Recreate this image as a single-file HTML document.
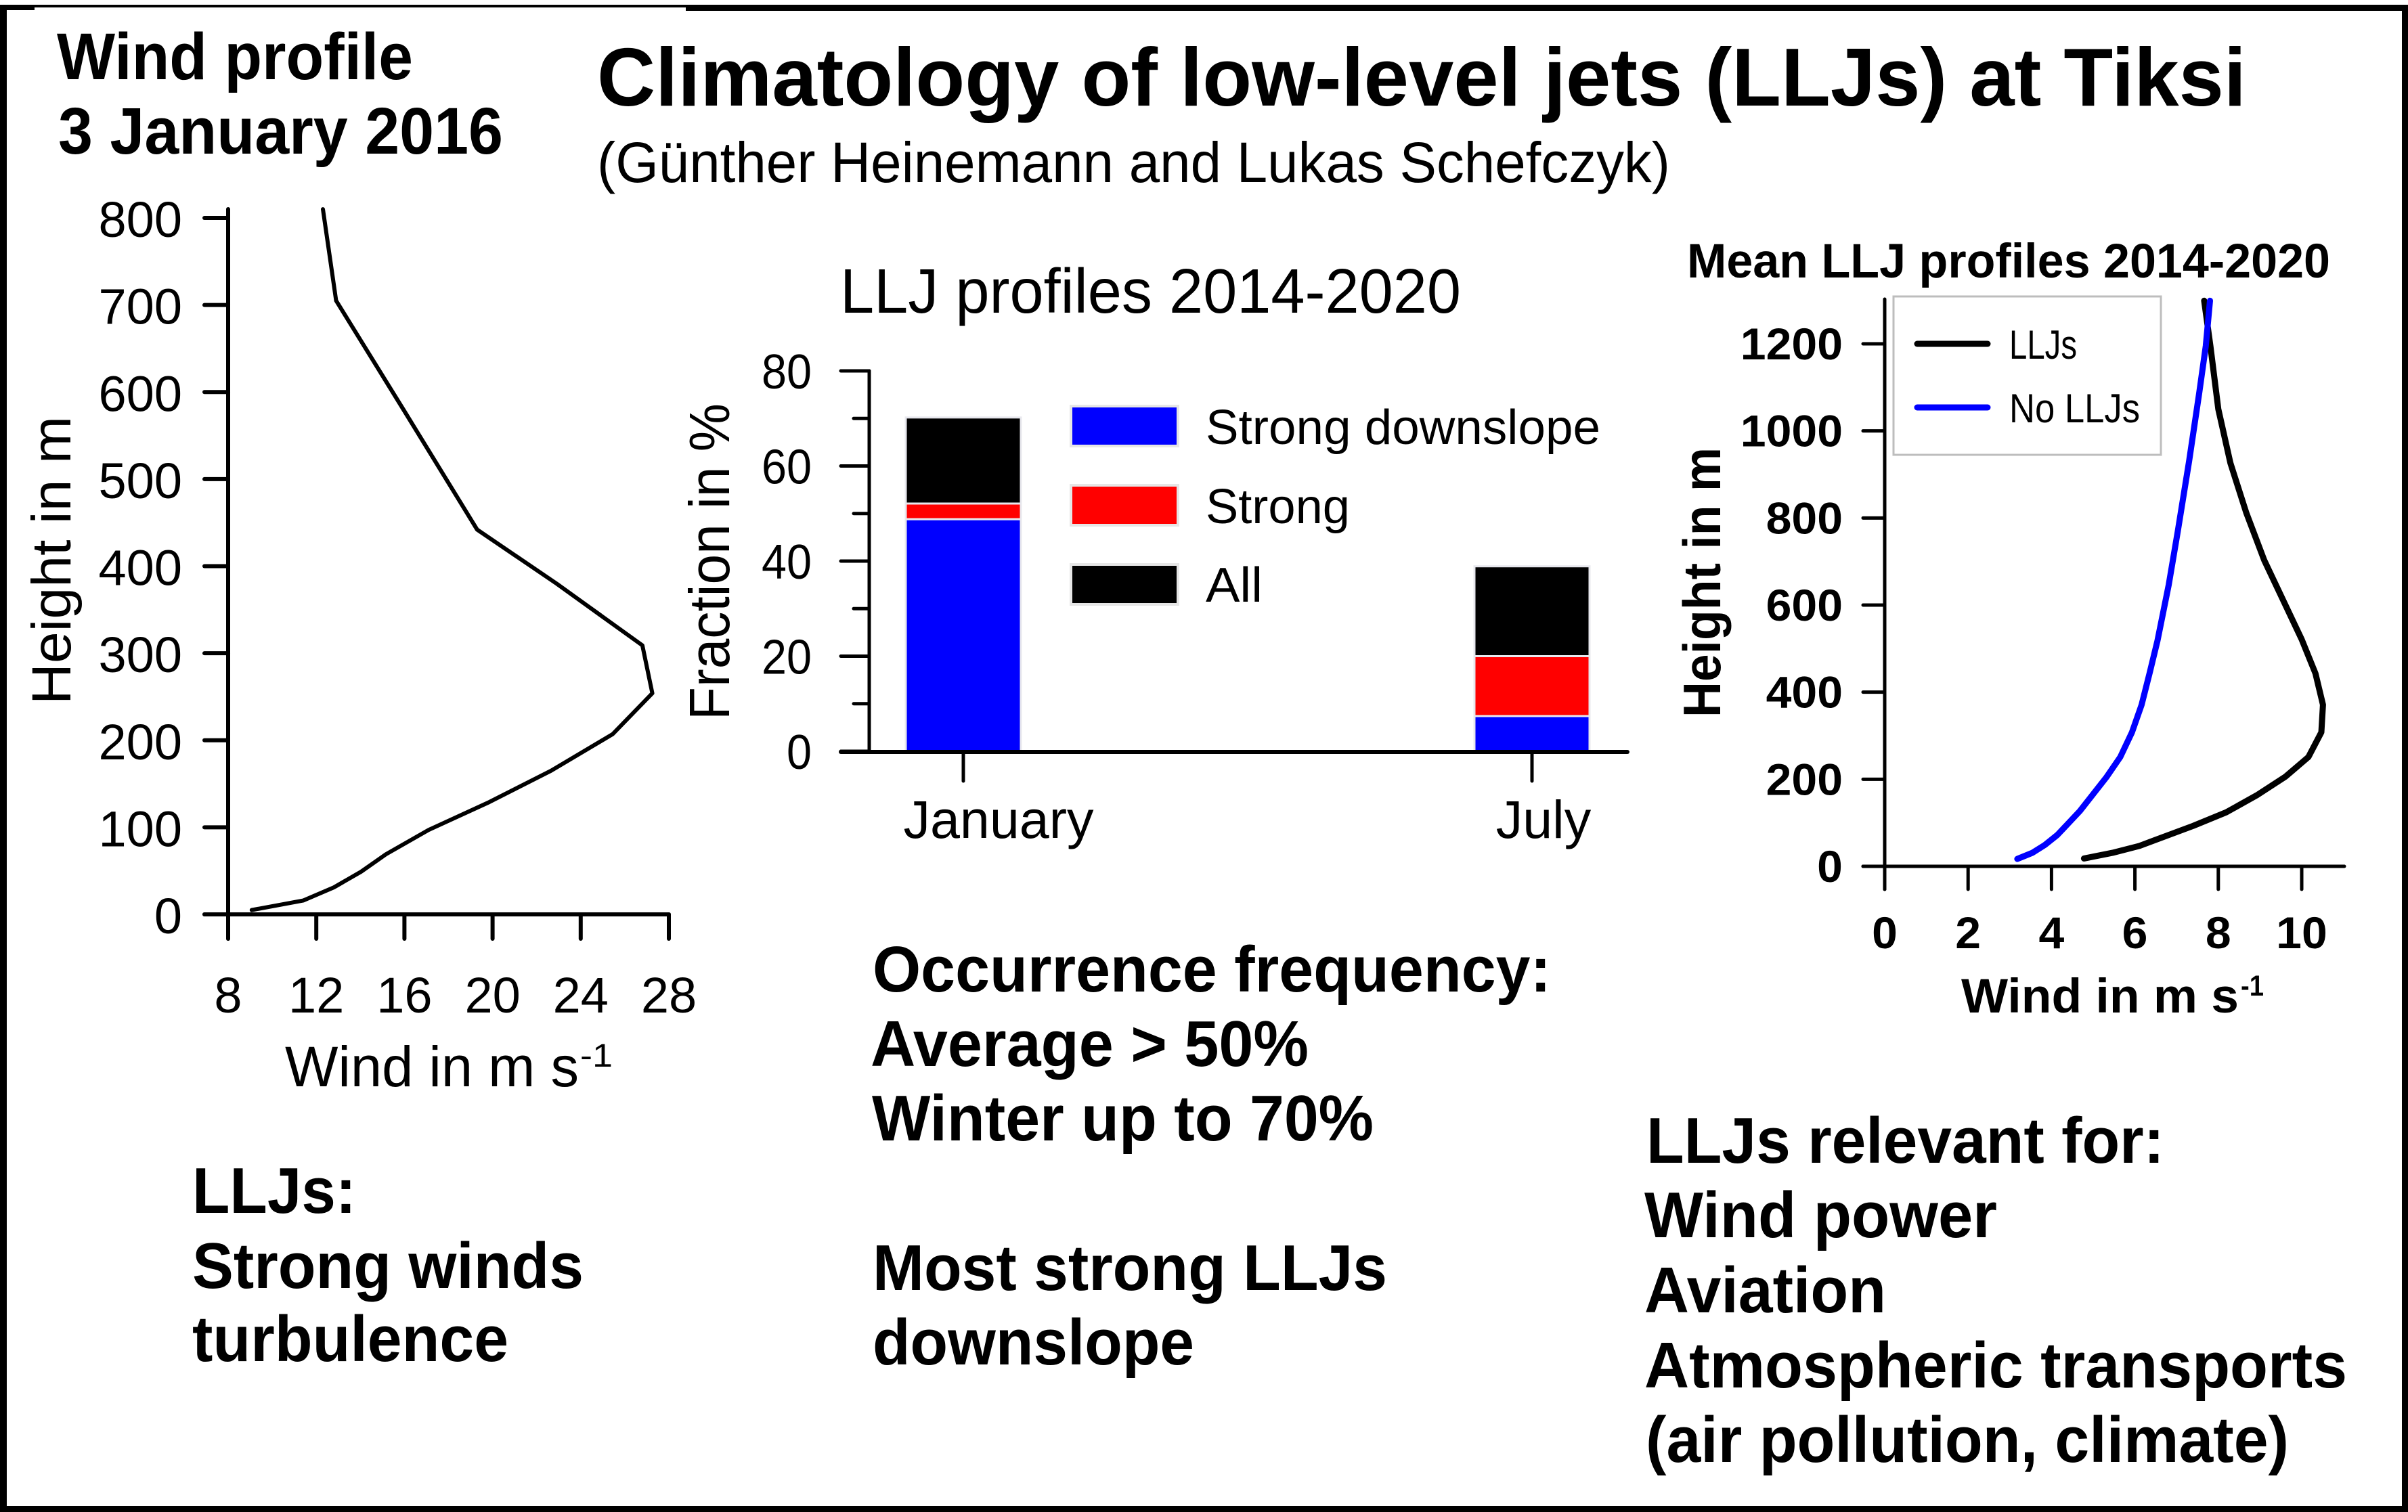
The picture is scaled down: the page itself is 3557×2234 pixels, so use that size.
<!DOCTYPE html>
<html lang="en">
<head>
<meta charset="utf-8">
<title>Climatology of low-level jets (LLJs) at Tiksi</title>
<style>
html,body{margin:0;padding:0;background:#fff;width:3557px;height:2234px;overflow:hidden}
svg{display:block}
text{font-family:"Liberation Sans",sans-serif;fill:#000}
.b{font-weight:700}
.body{font-weight:700;font-size:96px}
</style>
</head>
<body>
<svg id="poster" xmlns="http://www.w3.org/2000/svg" width="3557" height="2234" viewBox="0 0 3557 2234">
  <rect x="0" y="0" width="3557" height="2234" fill="#fff"/>
  <g fill="#000">
    <rect x="0" y="7" width="10" height="2227"/>
    <rect x="3548" y="7" width="9" height="2227"/>
    <rect x="0" y="2225" width="3557" height="9"/>
    <rect x="0" y="7" width="3557" height="4"/>
    <rect x="0" y="7" width="51" height="8"/>
    <rect x="1013" y="7" width="2544" height="9"/>
  </g>

  <text class="b" x="882" y="156" font-size="122" textLength="2436" lengthAdjust="spacingAndGlyphs">Climatology of low-level jets (LLJs) at Tiksi</text>
  <text x="882" y="269" font-size="84" textLength="1585" lengthAdjust="spacingAndGlyphs">(Günther Heinemann and Lukas Schefczyk)</text>

  <text class="b" x="84" y="117" font-size="97" textLength="526" lengthAdjust="spacingAndGlyphs">Wind profile</text>
  <text class="b" x="86" y="227" font-size="97" textLength="657" lengthAdjust="spacingAndGlyphs">3 January 2016</text>

  <g id="profile-chart"></g>
  <text x="421" y="1605" font-size="84" textLength="434" lengthAdjust="spacingAndGlyphs">Wind in m s</text>
  <text x="857" y="1576" font-size="48" textLength="48" lengthAdjust="spacingAndGlyphs">-1</text>
  <text transform="translate(104 1041) rotate(-90)" x="0" y="0" font-size="82" textLength="426" lengthAdjust="spacingAndGlyphs">Height in m</text>

  <text x="1241" y="462" font-size="93" textLength="917" lengthAdjust="spacingAndGlyphs">LLJ profiles 2014-2020</text>
  <g id="bar-chart"></g>
  <text transform="translate(1077 1064) rotate(-90)" x="0" y="0" font-size="84" textLength="468" lengthAdjust="spacingAndGlyphs">Fraction in %</text>

  <g>
    <rect x="1582" y="600" width="158" height="59" fill="#0000ff" stroke="#e6e6e6" stroke-width="4"/>
    <text x="1781" y="656" font-size="72" textLength="583" lengthAdjust="spacingAndGlyphs">Strong downslope</text>
    <rect x="1582" y="717" width="158" height="59" fill="#ff0000" stroke="#e6e6e6" stroke-width="4"/>
    <text x="1781" y="773" font-size="72" textLength="213" lengthAdjust="spacingAndGlyphs">Strong</text>
    <rect x="1582" y="834" width="158" height="59" fill="#000000" stroke="#e6e6e6" stroke-width="4"/>
    <text x="1781" y="889" font-size="72" textLength="84" lengthAdjust="spacingAndGlyphs">All</text>
  </g>

  <text class="b" x="2492" y="410" font-size="71" textLength="950" lengthAdjust="spacingAndGlyphs">Mean LLJ profiles 2014-2020</text>
  <rect x="2797" y="438" width="395" height="234" fill="#fff" stroke="#bdbdbd" stroke-width="3"/>
  <g id="mean-chart"></g>
  <g>
    <line x1="2832" y1="508" x2="2936" y2="508" stroke="#000" stroke-width="9" stroke-linecap="round"/>
    <text x="2968" y="530" font-size="60" textLength="100" lengthAdjust="spacingAndGlyphs">LLJs</text>
    <line x1="2832" y1="602" x2="2936" y2="602" stroke="#0000ff" stroke-width="9" stroke-linecap="round"/>
    <text x="2968" y="624" font-size="60" textLength="193" lengthAdjust="spacingAndGlyphs">No LLJs</text>
  </g>
  <text class="b" x="2897" y="1496" font-size="71" textLength="410" lengthAdjust="spacingAndGlyphs">Wind in m s</text>
  <text class="b" x="3310" y="1471" font-size="43" textLength="34" lengthAdjust="spacingAndGlyphs">-1</text>
  <text class="b" transform="translate(2541 1060) rotate(-90)" x="0" y="0" font-size="78" textLength="399" lengthAdjust="spacingAndGlyphs">Height in m</text>

  <g>
    <text class="body" x="284" y="1792" textLength="242" lengthAdjust="spacingAndGlyphs">LLJs:</text>
    <text class="body" x="284" y="1903" textLength="578" lengthAdjust="spacingAndGlyphs">Strong winds</text>
    <text class="body" x="284" y="2011" textLength="467" lengthAdjust="spacingAndGlyphs">turbulence</text>
  </g>
  <g>
    <text class="body" x="1289" y="1465" textLength="1002" lengthAdjust="spacingAndGlyphs">Occurrence frequency:</text>
    <text class="body" x="1286" y="1575" textLength="647" lengthAdjust="spacingAndGlyphs">Average &gt; 50%</text>
    <text class="body" x="1288" y="1685" textLength="741" lengthAdjust="spacingAndGlyphs">Winter up to 70%</text>
    <text class="body" x="1289" y="1906" textLength="760" lengthAdjust="spacingAndGlyphs">Most strong LLJs</text>
    <text class="body" x="1289" y="2016" textLength="475" lengthAdjust="spacingAndGlyphs">downslope</text>
  </g>
  <g>
    <text class="body" x="2432" y="1718" textLength="765" lengthAdjust="spacingAndGlyphs">LLJs relevant for:</text>
    <text class="body" x="2429" y="1828" textLength="521" lengthAdjust="spacingAndGlyphs">Wind power</text>
    <text class="body" x="2429" y="1939" textLength="357" lengthAdjust="spacingAndGlyphs">Aviation</text>
    <text class="body" x="2429" y="2050" textLength="1038" lengthAdjust="spacingAndGlyphs">Atmospheric transports</text>
    <text class="body" x="2431" y="2160" textLength="950" lengthAdjust="spacingAndGlyphs">(air pollution, climate)</text>
  </g>
</svg>

<script>
/* Wind profile, 3 January 2016 */
const profileWind = [9.07, 11.42, 12.8, 14.03, 15.16, 17.1, 19.85, 22.65, 25.45, 27.25, 26.8, 22.9, 19.3, 16.0, 12.9, 12.3];
const profileHeight = [5, 16, 31, 49, 69, 97, 129, 165, 207, 254, 309, 380, 442, 578, 705, 810];
const profileXTicks = [8, 12, 16, 20, 24, 28];
const profileYTicks = [0, 100, 200, 300, 400, 500, 600, 700, 800];

/* Stacked LLJ fractions, percent */
const barCategories = ['January', 'July'];
const strongDownslopeFraction = [48.8, 7.4];
const strongFraction = [3.3, 12.6];
const allFraction = [18.1, 18.9];
const barYTicks = [0, 20, 40, 60, 80];
const barYMinorTicks = [10, 30, 50, 70];

/* Mean profiles 2014-2020 */
const lljWind = [4.78, 5.46, 6.11, 7.4, 8.19, 8.92, 9.61, 10.16, 10.47, 10.51, 10.33, 10.0, 9.1, 8.67, 8.29, 8.0, 7.81, 7.66];
const lljHeight = [18, 31, 47, 93, 124, 163, 206, 251, 308, 371, 443, 521, 703, 812, 926, 1050, 1195, 1299];
const noLljWind = [3.18, 3.54, 3.84, 4.14, 4.68, 5.32, 5.65, 5.93, 6.16, 6.35, 6.54, 6.81, 7.03, 7.3, 7.54, 7.7, 7.8];
const noLljHeight = [17, 31, 49, 72, 127, 205, 251, 308, 371, 443, 518, 646, 770, 931, 1086, 1195, 1299];
const meanXTicks = [0, 2, 4, 6, 8, 10];
const meanYTicks = [0, 200, 400, 600, 800, 1000, 1200];

const SVG_NS = 'http://www.w3.org/2000/svg';

function makeLine(parent, name, x1, y1, x2, y2, width) {
  const el = document.createElementNS(SVG_NS, 'line');
  
  
  el.setAttribute('x1', x1);
  el.setAttribute('y1', y1);
  el.setAttribute('x2', x2);
  el.setAttribute('y2', y2);
  el.setAttribute('stroke', '#000');
  el.setAttribute('stroke-width', width);
  el.setAttribute('stroke-linecap', 'round');
  parent.appendChild(el);
  return el;
}

function makeLabel(parent, name, str, x, y, size, anchor, bold, digitWidth) {
  const el = document.createElementNS(SVG_NS, 'text');
  
  
  el.setAttribute('x', x);
  el.setAttribute('y', y);
  el.setAttribute('font-size', size);
  el.setAttribute('text-anchor', anchor);
  if (bold) el.setAttribute('font-weight', '700');
  if (digitWidth) {
    el.setAttribute('textLength', String(str).length * digitWidth);
    el.setAttribute('lengthAdjust', 'spacingAndGlyphs');
  }
  el.textContent = str;
  parent.appendChild(el);
  return el;
}

function makeCurve(parent, name, xs, ys, xFn, yFn, width, color) {
  const el = document.createElementNS(SVG_NS, 'polyline');
  
  
  el.setAttribute('points', xs.map(function (v, i) { return xFn(v).toFixed(1) + ',' + yFn(ys[i]).toFixed(1); }).join(' '));
  el.setAttribute('fill', 'none');
  el.setAttribute('stroke', color);
  el.setAttribute('stroke-width', width);
  el.setAttribute('stroke-linejoin', 'round');
  el.setAttribute('stroke-linecap', 'round');
  parent.appendChild(el);
  return el;
}

function makeBarSegment(parent, name, x, y, w, h, color) {
  const el = document.createElementNS(SVG_NS, 'rect');
  
  
  el.setAttribute('x', x);
  el.setAttribute('y', y);
  el.setAttribute('width', w);
  el.setAttribute('height', h);
  el.setAttribute('fill', color);
  el.setAttribute('stroke', '#e8e8ee');
  el.setAttribute('stroke-width', 3);
  parent.appendChild(el);
  return el;
}

/* ---------- left: single wind profile ---------- */
(function () {
  const g = document.getElementById('profile-chart');
  const xScale = function (v) { return 337 + (v - 8) * (988 - 337) / 20; };
  const yScale = function (v) { return 1351 - v * (1351 - 322) / 800; };
  makeLine(g, 'profile-y-axis', xScale(8), 309, xScale(8), 1387, 6);
  makeLine(g, 'profile-x-axis', 302, yScale(0), xScale(28), yScale(0), 6);
  profileYTicks.forEach(function (t) {
    makeLine(g, 'profile-y-tick', 302, yScale(t), xScale(8), yScale(t), 6);
    makeLabel(g, 'profile-y-tick-label', t, 269, yScale(t) + 28, 74, 'end', false, 0);
  });
  profileXTicks.forEach(function (t) {
    makeLine(g, 'profile-x-tick', xScale(t), yScale(0), xScale(t), 1387, 6);
    makeLabel(g, 'profile-x-tick-label', t, xScale(t), 1496, 74, 'middle', false, 0);
  });
  makeCurve(g, 'profile-wind-line', profileWind, profileHeight, xScale, yScale, 6, '#000');
})();

/* ---------- centre: stacked bars ---------- */
(function () {
  const g = document.getElementById('bar-chart');
  const catX = function (i) { return 1423 + i * 840; };
  const yScale = function (v) { return 1110 - v * (1110 - 548) / 80; };
  const barW = 170;
  barCategories.forEach(function (cat, i) {
    const a = strongDownslopeFraction[i];
    const b = a + strongFraction[i];
    const c = b + allFraction[i];
    const left = catX(i) - barW / 2;
    makeBarSegment(g, 'bar-' + cat.toLowerCase() + '-all', left, yScale(c), barW, yScale(b) - yScale(c), '#000000');
    makeBarSegment(g, 'bar-' + cat.toLowerCase() + '-strong', left, yScale(b), barW, yScale(a) - yScale(b), '#ff0000');
    makeBarSegment(g, 'bar-' + cat.toLowerCase() + '-strong-downslope', left, yScale(a), barW, yScale(0) - yScale(a), '#0000ff');
    makeLine(g, 'bar-x-tick', catX(i), 1114, catX(i), 1154, 5);
    makeLabel(g, 'bar-x-tick-label', cat, catX(i) + (i === 0 ? 52 : 17), 1238, 79, 'middle', false, 0);
  });
  makeLine(g, 'bar-y-axis', 1284, yScale(80), 1284, yScale(0), 5);
  makeLine(g, 'bar-x-axis', 1242, yScale(0) + 1, 2404, yScale(0) + 1, 6);
  barYTicks.forEach(function (t) {
    makeLine(g, 'bar-y-tick', 1242, yScale(t), 1284, yScale(t), 5);
    makeLabel(g, 'bar-y-tick-label', t, 1199, yScale(t) + 26, 72, 'end', false, 37);
  });
  barYMinorTicks.forEach(function (t) {
    makeLine(g, 'bar-y-minor-tick', 1261, yScale(t), 1284, yScale(t), 5);
  });
})();

/* ---------- right: mean profiles ---------- */
(function () {
  const g = document.getElementById('mean-chart');
  const xScale = function (v) { return 2784 + v * 61.6; };
  const yScale = function (v) { return 1280 - v * (1280 - 508) / 1200; };
  makeLine(g, 'mean-y-axis', xScale(0), 442, xScale(0), 1314, 5);
  makeLine(g, 'mean-x-axis', 2752, yScale(0), 3463, yScale(0), 5);
  meanYTicks.forEach(function (t) {
    makeLine(g, 'mean-y-tick', 2752, yScale(t), xScale(0), yScale(t), 5);
    makeLabel(g, 'mean-y-tick-label', t, 2722, yScale(t) + 23, 66, 'end', true, 37.8);
  });
  meanXTicks.forEach(function (t) {
    makeLine(g, 'mean-x-tick', xScale(t), yScale(0), xScale(t), 1314, 5);
    makeLabel(g, 'mean-x-tick-label', t, xScale(t), 1401, 66, 'middle', true, 37.8);
  });
  makeCurve(g, 'llj-mean-profile-line', lljWind, lljHeight, xScale, yScale, 9, '#000000');
  makeCurve(g, 'no-llj-mean-profile-line', noLljWind, noLljHeight, xScale, yScale, 9, '#0000ff');
})();
</script>
</body>
</html>
